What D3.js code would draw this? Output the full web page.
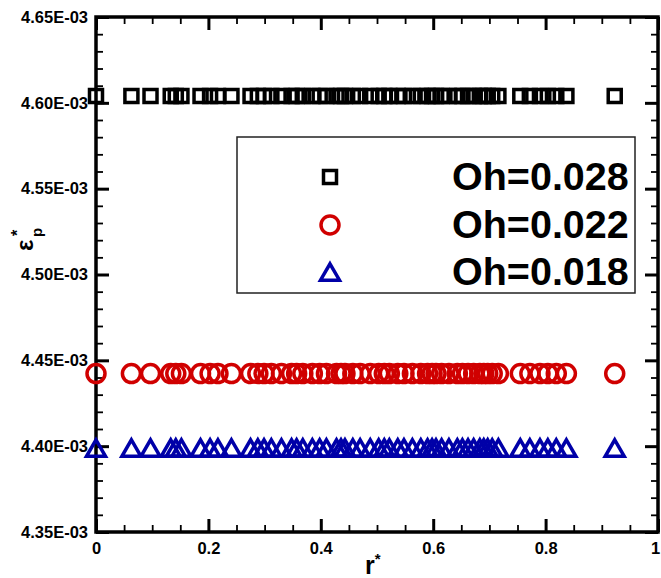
<!DOCTYPE html>
<html>
<head>
<meta charset="utf-8">
<script src="https://cdn.jsdelivr.net/npm/d3@7"></script>
<style>
  html, body { margin: 0; padding: 0; background: #fff; }
  svg { display: block; font-family: "Liberation Sans", Arial, sans-serif; font-weight: bold; }
</style>
</head>
<body>
<svg id="chart" width="661" height="578"></svg>
<script>
const width = 661;
const height = 578;

// r* positions (same particles for every Oh)
const rStar = [0.0, 0.063, 0.097, 0.133, 0.142, 0.152, 0.186, 0.203, 0.217, 0.241,
  0.275, 0.288, 0.299, 0.312, 0.33, 0.348, 0.357, 0.368, 0.385, 0.398,
  0.41, 0.428, 0.436, 0.443, 0.457, 0.47, 0.488, 0.503, 0.513, 0.522,
  0.537, 0.548, 0.563, 0.578, 0.59, 0.598, 0.605, 0.615, 0.628, 0.643,
  0.652, 0.662, 0.672, 0.683, 0.69, 0.697, 0.705, 0.716, 0.755, 0.772,
  0.79, 0.804, 0.819, 0.837, 0.923];

const epsOh028 = [4.604e-3, 4.604e-3, 4.604e-3, 4.604e-3, 4.604e-3, 4.604e-3, 4.604e-3, 4.604e-3, 4.604e-3, 4.604e-3,
  4.604e-3, 4.604e-3, 4.604e-3, 4.604e-3, 4.604e-3, 4.604e-3, 4.604e-3, 4.604e-3, 4.604e-3, 4.604e-3,
  4.604e-3, 4.604e-3, 4.604e-3, 4.604e-3, 4.604e-3, 4.604e-3, 4.604e-3, 4.604e-3, 4.604e-3, 4.604e-3,
  4.604e-3, 4.604e-3, 4.604e-3, 4.604e-3, 4.604e-3, 4.604e-3, 4.604e-3, 4.604e-3, 4.604e-3, 4.604e-3,
  4.604e-3, 4.604e-3, 4.604e-3, 4.604e-3, 4.604e-3, 4.604e-3, 4.604e-3, 4.604e-3, 4.604e-3, 4.604e-3,
  4.604e-3, 4.604e-3, 4.604e-3, 4.604e-3, 4.604e-3];

const epsOh022 = [4.4423e-3, 4.4423e-3, 4.4423e-3, 4.4423e-3, 4.4423e-3, 4.4423e-3, 4.4423e-3, 4.4423e-3, 4.4423e-3, 4.4423e-3,
  4.4423e-3, 4.4423e-3, 4.4423e-3, 4.4423e-3, 4.4423e-3, 4.4423e-3, 4.4423e-3, 4.4423e-3, 4.4423e-3, 4.4423e-3,
  4.4423e-3, 4.4423e-3, 4.4423e-3, 4.4423e-3, 4.4423e-3, 4.4423e-3, 4.4423e-3, 4.4423e-3, 4.4423e-3, 4.4423e-3,
  4.4423e-3, 4.4423e-3, 4.4423e-3, 4.4423e-3, 4.4423e-3, 4.4423e-3, 4.4423e-3, 4.4423e-3, 4.4423e-3, 4.4423e-3,
  4.4423e-3, 4.4423e-3, 4.4423e-3, 4.4423e-3, 4.4423e-3, 4.4423e-3, 4.4423e-3, 4.4423e-3, 4.4423e-3, 4.4423e-3,
  4.4423e-3, 4.4423e-3, 4.4423e-3, 4.4423e-3, 4.4423e-3];

const epsOh018 = [4.3989e-3, 4.3989e-3, 4.3989e-3, 4.3989e-3, 4.3989e-3, 4.3989e-3, 4.3989e-3, 4.3989e-3, 4.3989e-3, 4.3989e-3,
  4.3989e-3, 4.3989e-3, 4.3989e-3, 4.3989e-3, 4.3989e-3, 4.3989e-3, 4.3989e-3, 4.3989e-3, 4.3989e-3, 4.3989e-3,
  4.3989e-3, 4.3989e-3, 4.3989e-3, 4.3989e-3, 4.3989e-3, 4.3989e-3, 4.3989e-3, 4.3989e-3, 4.3989e-3, 4.3989e-3,
  4.3989e-3, 4.3989e-3, 4.3989e-3, 4.3989e-3, 4.3989e-3, 4.3989e-3, 4.3989e-3, 4.3989e-3, 4.3989e-3, 4.3989e-3,
  4.3989e-3, 4.3989e-3, 4.3989e-3, 4.3989e-3, 4.3989e-3, 4.3989e-3, 4.3989e-3, 4.3989e-3, 4.3989e-3, 4.3989e-3,
  4.3989e-3, 4.3989e-3, 4.3989e-3, 4.3989e-3, 4.3989e-3];

const seriesNames = ["Oh=0.028", "Oh=0.022", "Oh=0.018"];
const seriesColors = ["#000000", "#d00000", "#0000a8"];
const seriesShapes = ["square", "circle", "triangle"];

const xTicks = [0, 0.2, 0.4, 0.6, 0.8, 1];
const xTickLabels = ["0", "0.2", "0.4", "0.6", "0.8", "1"];
const yTicks = [4.35e-3, 4.40e-3, 4.45e-3, 4.50e-3, 4.55e-3, 4.60e-3, 4.65e-3];
const yTickLabels = ["4.35E-03", "4.40E-03", "4.45E-03", "4.50E-03", "4.55E-03", "4.60E-03", "4.65E-03"];

//------------ Layout --------------------------------------------------------//
const plot = { left: 96, right: 658, top: 17, bottom: 532 };

const x = d3.scaleLinear().domain([0, 1]).range([plot.left, plot.right]);
const y = d3.scaleLinear().domain([4.35e-3, 4.65e-3]).range([plot.bottom, plot.top]);

const xMinor = d3.range(0, 1.0001, 0.05).filter((d, i) => i % 4 !== 0);
const yMinor = d3.range(0, 31).map(i => 4.35e-3 + i * 1e-5).filter((d, i) => i % 5 !== 0);

const svg = d3.select("#chart");

function styleAxis(g, strokeW) {
    g.select(".domain").remove();
    g.selectAll(".tick line").attr("stroke", "#000").attr("stroke-width", strokeW);
    g.selectAll(".tick text")
        .attr("fill", "#000")
        .attr("font-size", 16.5)
        .attr("font-weight", "bold")
        .attr("font-family", "'Liberation Sans', Arial, sans-serif");
}

const labelX = i => xTickLabels[xTicks.indexOf(i)];
const labelY = v => yTickLabels[yTicks.findIndex(t => Math.abs(t - v) < 1e-9)];

// bottom
svg.append("g").attr("transform", `translate(0,${plot.bottom})`)
    .call(d3.axisBottom(x).tickValues(xMinor).tickSize(-7).tickFormat(""))
    .call(g => styleAxis(g, 1.8));
svg.append("g").attr("transform", `translate(0,${plot.bottom})`)
    .call(d3.axisBottom(x).tickValues(xTicks).tickSize(-13).tickPadding(10).tickFormat(labelX))
    .call(g => styleAxis(g, 3))
    .call(g => g.selectAll(".tick text").filter(d => d === 1).attr("dx", -3));
// top
svg.append("g").attr("transform", `translate(0,${plot.top})`)
    .call(d3.axisTop(x).tickValues(xMinor).tickSize(-7).tickFormat(""))
    .call(g => styleAxis(g, 1.8));
svg.append("g").attr("transform", `translate(0,${plot.top})`)
    .call(d3.axisTop(x).tickValues(xTicks).tickSize(-13).tickFormat(""))
    .call(g => styleAxis(g, 3));
// left
svg.append("g").attr("transform", `translate(${plot.left},0)`)
    .call(d3.axisLeft(y).tickValues(yMinor).tickSize(-7).tickFormat(""))
    .call(g => styleAxis(g, 1.8));
svg.append("g").attr("transform", `translate(${plot.left},0)`)
    .call(d3.axisLeft(y).tickValues(yTicks).tickSize(-13).tickPadding(8).tickFormat(labelY))
    .call(g => styleAxis(g, 3));
// right
svg.append("g").attr("transform", `translate(${plot.right},0)`)
    .call(d3.axisRight(y).tickValues(yMinor).tickSize(-7).tickFormat(""))
    .call(g => styleAxis(g, 1.8));
svg.append("g").attr("transform", `translate(${plot.right},0)`)
    .call(d3.axisRight(y).tickValues(yTicks).tickSize(-13).tickFormat(""))
    .call(g => styleAxis(g, 3));

// frame
svg.append("rect")
    .attr("x", plot.left).attr("y", plot.top)
    .attr("width", plot.right - plot.left).attr("height", plot.bottom - plot.top)
    .attr("fill", "none").attr("stroke", "#000").attr("stroke-width", 3.5);

//------------ Markers -------------------------------------------------------//
function markerPath(shape) {
    if (shape === "square") return "M-6.5,-6.5H6.5V6.5H-6.5Z";
    if (shape === "circle") return "M9,0A9,9 0 1,1 -9,0A9,9 0 1,1 9,0Z";
    // triangle, centred on its bounding box
    return "M0,-8.2L9.5,8.2L-9.5,8.2Z";
}

const allSeries = [epsOh028, epsOh022, epsOh018];
const markers = svg.append("g");
allSeries.forEach((vals, s) => {
    markers.append("g")
        .selectAll("path")
        .data(rStar.map((r, i) => ({ r: r, eps: vals[i] })))
        .join("path")
        .attr("d", markerPath(seriesShapes[s]))
        .attr("transform", d => `translate(${x(d.r)},${y(d.eps)})`)
        .attr("fill", "none")
        .attr("stroke", seriesColors[s])
        .attr("stroke-width", 3.5)
        .attr("stroke-linejoin", "miter");
});

//------------ Legend --------------------------------------------------------//
const legend = svg.append("g");
legend.append("rect")
    .attr("x", 237).attr("y", 137).attr("width", 398).attr("height", 156)
    .attr("fill", "#fff").attr("stroke", "#222").attr("stroke-width", 1.5);

const legendRows = [177, 225, 272];
seriesNames.forEach((name, i) => {
    legend.append("path")
        .attr("d", markerPath(seriesShapes[i]))
        .attr("transform", `translate(330,${legendRows[i]})`)
        .attr("fill", "none")
        .attr("stroke", seriesColors[i])
        .attr("stroke-width", 3.5);
    legend.append("text")
        .attr("x", 452).attr("y", legendRows[i] + 13)
        .attr("font-size", 39.5)
        .attr("fill", "#000")
        .text(name);
});

//------------ Axis titles ---------------------------------------------------//
const xTitle = svg.append("text")
    .attr("x", 365).attr("y", 574)
    .attr("font-size", 25)
    .attr("fill", "#000");
xTitle.append("tspan").text("r");
xTitle.append("tspan").attr("font-size", 15).attr("dy", -10).text("*");

const yTitle = svg.append("g").attr("transform", "translate(33,243) rotate(-90)");
yTitle.append("text").attr("x", -8).attr("y", 0).attr("font-size", 24).attr("fill", "#000").text("ε");
yTitle.append("text").attr("x", 6).attr("y", 9).attr("font-size", 15).attr("fill", "#000").text("p");
yTitle.append("text").attr("x", 7).attr("y", -10).attr("font-size", 16).attr("fill", "#000").text("*");
</script>
</body>
</html>
